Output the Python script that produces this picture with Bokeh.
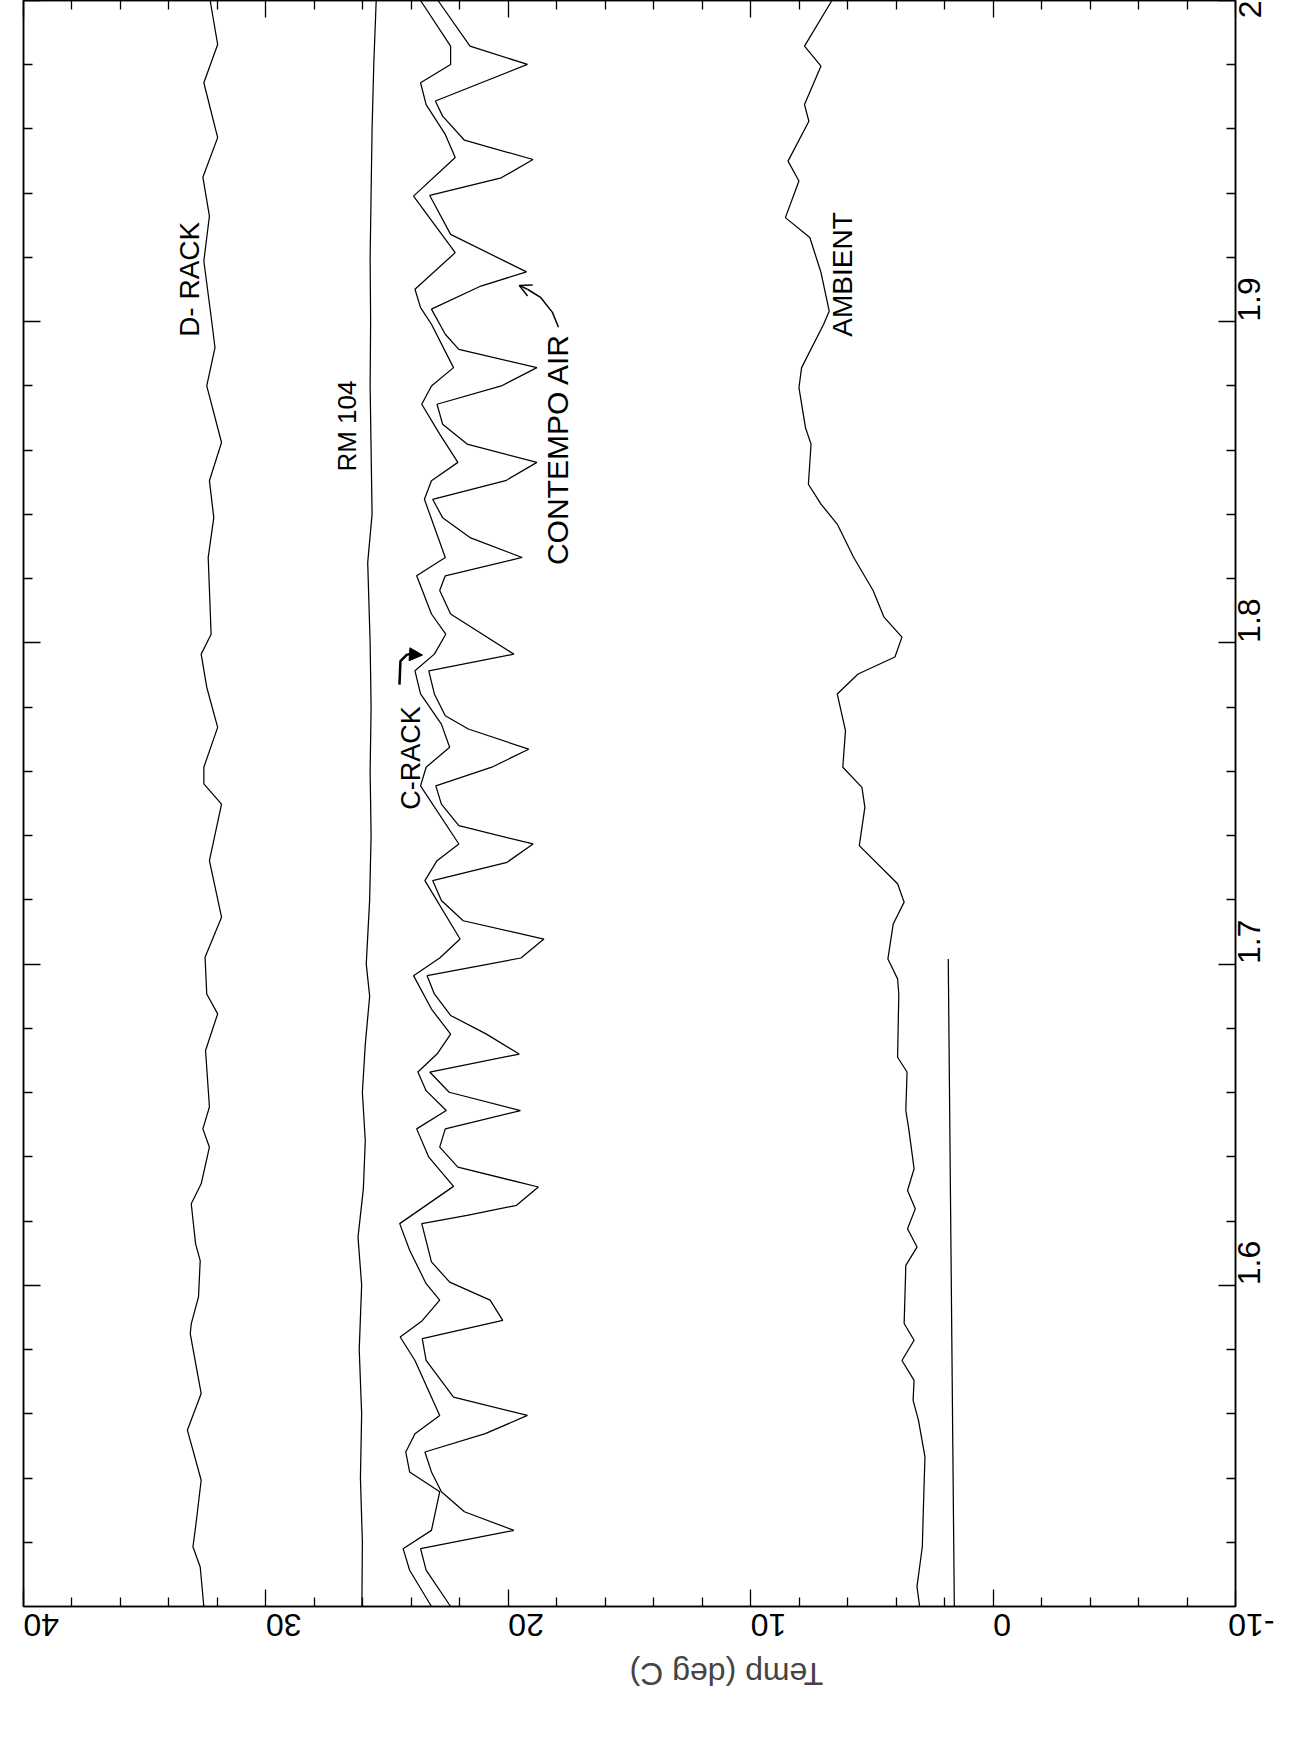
from math import pi
from bokeh.plotting import figure
from bokeh.models import Range1d, LinearAxis, FixedTicker, Label, Arrow, NormalHead, OpenHead
from bokeh.core.properties import value
from bokeh.embed import file_html
from bokeh.resources import INLINE

# ---------------- data (time, temperature deg C) ----------------
temp_ticks = [40, 30, 20, 10, 0, -10]
temp_tick_labels = ["40", "30", "20", "10", "0", "-10"]
temp_minor = [38, 36, 34, 32, 28, 26, 24, 22, 18, 16, 14, 12, 8, 6, 4, 2, -2, -4, -6, -8]
time_ticks = [1.6, 1.7, 1.8, 1.9, 2.0]
time_tick_labels = ["1.6", "1.7", "1.8", "1.9", "2"]
time_minor = [1.52, 1.54, 1.56, 1.58, 1.62, 1.64, 1.66, 1.68, 1.72, 1.74, 1.76, 1.78,
              1.82, 1.84, 1.86, 1.88, 1.92, 1.94, 1.96, 1.98]

drack_t = [2.000, 1.9863, 1.9744, 1.9573, 1.9450, 1.9329, 1.9189, 1.8992, 1.8919, 1.8800,
           1.8624, 1.8505, 1.8390, 1.8266, 1.8027, 1.7965, 1.7862, 1.7737, 1.7613, 1.7561,
           1.7498, 1.7322, 1.7146, 1.7021, 1.6907, 1.6845, 1.6731, 1.6555, 1.6487, 1.6430,
           1.6316, 1.6254, 1.6129, 1.6077, 1.5964, 1.5880, 1.5849, 1.5663, 1.5549, 1.5487,
           1.5393, 1.5248, 1.5186, 1.5123, 1.5000]
drack_T = [32.30, 31.99, 32.56, 31.99, 32.60, 32.33, 32.56, 32.22, 32.10, 32.44,
           31.83, 32.33, 32.15, 32.38, 32.26, 32.67, 32.44, 31.99, 32.56, 32.56,
           31.83, 32.33, 31.83, 32.51, 32.44, 31.99, 32.49, 32.33, 32.60, 32.33,
           32.67, 33.08, 32.90, 32.71, 32.78, 33.08, 33.12, 32.67, 33.24, 33.01,
           32.67, 32.90, 33.01, 32.71, 32.56]

rm104_t = [2.000, 1.980, 1.960, 1.940, 1.920, 1.900, 1.880, 1.860, 1.840, 1.825,
           1.800, 1.780, 1.760, 1.740, 1.720, 1.700, 1.690, 1.675, 1.660, 1.645,
           1.630, 1.615, 1.600, 1.580, 1.560, 1.540, 1.520, 1.500]
rm104_T = [25.45, 25.55, 25.62, 25.66, 25.70, 25.68, 25.70, 25.66, 25.62, 25.80,
           25.70, 25.66, 25.70, 25.66, 25.72, 25.86, 25.72, 25.90, 26.02, 25.90,
           25.98, 26.20, 26.05, 26.15, 26.05, 26.10, 26.02, 26.04]

crack_t = [2.000, 1.9858, 1.9801, 1.9744, 1.9676, 1.9583, 1.9511, 1.9391, 1.9303, 1.9215,
           1.9101, 1.9044, 1.8992, 1.8857, 1.8800, 1.8743, 1.8650, 1.8562, 1.8505, 1.8447,
           1.8266, 1.8209, 1.8090, 1.8027, 1.7965, 1.7913, 1.7841, 1.7747, 1.7675, 1.7613,
           1.7555, 1.7374, 1.7322, 1.7260, 1.7078, 1.7019, 1.6964, 1.6860, 1.6782, 1.6720,
           1.6664, 1.6606, 1.6544, 1.6487, 1.6399, 1.6308, 1.6192, 1.6109, 1.6005, 1.5954,
           1.5890, 1.5839, 1.5766, 1.5595, 1.5538, 1.5481, 1.5419, 1.5357, 1.5237, 1.5180,
           1.5113, 1.5000]
crack_T = [23.62, 22.38, 22.38, 23.62, 23.39, 22.60, 22.19, 23.91, 23.05, 22.19,
           23.85, 23.62, 23.17, 22.26, 23.17, 23.57, 22.83, 22.08, 23.17, 23.46,
           22.60, 23.78, 23.17, 22.58, 23.05, 23.85, 23.62, 22.76, 22.42, 23.39,
           23.62, 22.04, 22.94, 23.44, 21.99, 22.83, 23.91, 23.17, 22.38, 22.94,
           23.73, 23.39, 22.56, 23.78, 23.28, 22.26, 24.48, 24.07, 23.39, 22.83,
           23.55, 24.46, 23.85, 22.83, 23.85, 24.23, 24.07, 22.83, 23.17, 24.34,
           24.07, 23.17]

contempo_t = [2.000, 1.9858, 1.9801, 1.9687, 1.9640, 1.9565, 1.9505, 1.9448, 1.9393, 1.9272,
              1.9155, 1.9111, 1.9039, 1.8961, 1.8914, 1.8857, 1.8800, 1.8743, 1.8681, 1.8619,
              1.8562, 1.8505, 1.8447, 1.8390, 1.8328, 1.8266, 1.8209, 1.8163, 1.8090, 1.7965,
              1.7913, 1.7841, 1.7773, 1.7732, 1.7669, 1.7613, 1.7555, 1.7498, 1.7431, 1.7374,
              1.7317, 1.7260, 1.7198, 1.7135, 1.7078, 1.7019, 1.6964, 1.6907, 1.6840, 1.6782,
              1.6720, 1.6664, 1.6601, 1.6544, 1.6487, 1.6430, 1.6368, 1.6306, 1.6249, 1.6218,
              1.6192, 1.6073, 1.6010, 1.5954, 1.5891, 1.5834, 1.5766, 1.5652, 1.5595, 1.5538,
              1.5481, 1.5419, 1.5357, 1.5295, 1.5237, 1.5180, 1.5113, 1.5000]
contempo_T = [22.90, 21.58, 19.21, 23.01, 22.71, 21.81, 18.98, 20.29, 23.24, 22.38,
              19.25, 21.13, 23.17, 22.60, 22.04, 18.82, 20.29, 22.94, 22.71, 21.70,
              18.82, 20.11, 23.12, 22.71, 21.58, 19.43, 22.60, 22.83, 22.38, 19.77,
              23.28, 23.05, 22.60, 21.65, 19.16, 20.68, 22.99, 22.76, 22.04, 18.98,
              20.05, 23.12, 22.76, 21.86, 18.53, 19.48, 23.35, 23.05, 22.38, 20.90,
              19.55, 23.24, 22.44, 19.50, 22.60, 22.83, 22.08, 18.76, 19.66, 21.70,
              23.57, 23.17, 22.42, 20.75, 20.23, 23.55, 23.39, 22.26, 19.21, 20.95,
              23.44, 23.17, 22.76, 21.81, 19.77, 23.62, 23.39, 22.38]

ambient_t = [2.000, 1.9858, 1.9796, 1.9676, 1.9624, 1.9500, 1.9438, 1.9324, 1.9262, 1.9153,
             1.9033, 1.8992, 1.8857, 1.8795, 1.8670, 1.8619, 1.8494, 1.8432, 1.8370, 1.8266,
             1.8163, 1.8080, 1.8018, 1.7956, 1.7903, 1.7841, 1.7727, 1.7613, 1.7550, 1.7488,
             1.7369, 1.7250, 1.7193, 1.7125, 1.7016, 1.6954, 1.6907, 1.6710, 1.6664, 1.6544,
             1.6487, 1.6363, 1.6295, 1.6238, 1.6176, 1.6119, 1.6062, 1.5881, 1.5829, 1.5766,
             1.5704, 1.5642, 1.5580, 1.5466, 1.5373, 1.5186, 1.5062, 1.5000]
ambient_T = [6.65, 7.78, 7.10, 7.78, 7.60, 8.46, 8.01, 8.57, 7.56, 7.10,
             6.76, 6.99, 7.90, 8.01, 7.74, 7.51, 7.62, 7.10, 6.43, 5.75,
             4.95, 4.50, 3.76, 4.05, 5.57, 6.43, 6.09, 6.20, 5.41, 5.29,
             5.52, 3.94, 3.67, 4.12, 4.34, 3.94, 3.89, 3.94, 3.55, 3.60,
             3.48, 3.26, 3.53, 3.21, 3.53, 3.14, 3.60, 3.67, 3.26, 3.76,
             3.26, 3.30, 3.08, 2.81, 2.85, 2.92, 3.14, 3.03]

extra_t = [1.7016, 1.5000]
extra_T = [1.85, 1.60]

# hand-written annotations: (text, temp, time, font size)
notes = [("D- RACK", 33.15, 1.9132, "28px"),
         ("RM 104", 26.67, 1.8675, "26px"),
         ("C-RACK", 24.03, 1.7642, "27px"),
         ("CONTEMPO AIR", 17.96, 1.8603, "30px"),
         ("AMBIENT", 6.2, 1.9147, "28px")]
crack_arrow_T = [24.49, 24.45, 24.16, 23.54]
crack_arrow_t = [1.7870, 1.7943, 1.7965, 1.7962]
contempo_arrow_T = [17.93, 18.18, 18.67, 19.21, 19.55]
contempo_arrow_t = [1.8983, 1.9029, 1.9076, 1.9101, 1.9113]

# ---------------- figure ----------------
FONT = "Liberation Sans"
p = figure(frame_width=1212, frame_height=1606, output_backend="svg", toolbar_location=None,
           x_range=Range1d(40, -10), y_range=Range1d(1.5, 2.0),
           x_axis_location="below", y_axis_location="right",
           min_border_left=23, min_border_top=0, min_border_right=10, min_border_bottom=10)
p.grid.visible = False
p.background_fill_color = "white"
p.border_fill_color = "white"
p.outline_line_color = "black"
p.outline_line_width = 1.5

tick_font = "32px"


def style_axis(ax, ticker, labels, orient=None):
    ax.ticker = ticker
    ax.major_tick_in = 17
    ax.major_tick_out = 0
    ax.minor_tick_in = 9
    ax.minor_tick_out = 0
    ax.axis_line_color = "black"
    ax.axis_line_width = 1.5
    ax.major_tick_line_width = 1.3
    ax.minor_tick_line_width = 1.3
    ax.major_label_text_font = FONT
    ax.major_label_text_font_size = tick_font
    ax.major_label_text_color = "black"
    ax.major_label_overrides = dict(zip(ticker.ticks, labels))
    if orient is not None:
        ax.major_label_orientation = orient


temp_ticker = FixedTicker(ticks=temp_ticks, minor_ticks=temp_minor)
time_ticker = FixedTicker(ticks=time_ticks, minor_ticks=time_minor)

xb = p.xaxis[0]
style_axis(xb, temp_ticker, temp_tick_labels, pi)
xb.major_label_standoff = 18
xb.axis_label = "Temp (deg C)"
xb.axis_label_text_font = FONT
xb.axis_label_text_font_size = "32px"
xb.axis_label_text_font_style = "normal"
xb.axis_label_standoff = 24
use_axis_label = True
try:
    xb.axis_label_orientation = pi
except Exception:
    use_axis_label = False
    xb.axis_label = None

yr = p.yaxis[0]
style_axis(yr, time_ticker, time_tick_labels, pi / 2)
yr.major_label_standoff = 14

# frame ticks on the opposite sides (no labels)
xt = LinearAxis()
style_axis(xt, FixedTicker(ticks=temp_ticks, minor_ticks=temp_minor), ["" for _ in temp_ticks])
xt.major_label_standoff = 0
p.add_layout(xt, "above")
yl = LinearAxis()
style_axis(yl, FixedTicker(ticks=time_ticks, minor_ticks=time_minor), ["" for _ in time_ticks])
yl.major_label_standoff = 0
p.add_layout(yl, "left")

if not use_axis_label:
    p.add_layout(Label(x=15, y=1.5, y_offset=-100, text="Temp (deg C)", angle=pi,
                       text_font=FONT, text_font_size="32px", text_align="center",
                       text_baseline="middle"))

lw = 1.25
for ts, Ts in [(drack_t, drack_T), (rm104_t, rm104_T), (crack_t, crack_T),
               (contempo_t, contempo_T), (ambient_t, ambient_T), (extra_t, extra_T)]:
    p.line(x=Ts, y=ts, line_color="black", line_width=lw)

for txt, T, t, fs in notes:
    p.text(x=[T], y=[t], text=[txt], angle=pi / 2, text_font=value(FONT),
           text_font_size=fs, text_align="center", text_baseline="middle", text_color="black")

p.line(x=crack_arrow_T[:-1], y=crack_arrow_t[:-1], line_color="black", line_width=2.5)
p.add_layout(Arrow(end=NormalHead(size=13, fill_color="black", line_color="black"),
                   x_start=crack_arrow_T[-2], y_start=crack_arrow_t[-2],
                   x_end=crack_arrow_T[-1], y_end=crack_arrow_t[-1],
                   line_width=2.5, line_color="black"))
p.line(x=contempo_arrow_T[:-1], y=contempo_arrow_t[:-1], line_color="black", line_width=1.5)
p.add_layout(Arrow(end=OpenHead(size=12, line_width=1.5),
                   x_start=contempo_arrow_T[-2], y_start=contempo_arrow_t[-2],
                   x_end=contempo_arrow_T[-1], y_end=contempo_arrow_t[-1],
                   line_width=1.5, line_color="black"))

open("out.html", "w").write(file_html(p, INLINE))
